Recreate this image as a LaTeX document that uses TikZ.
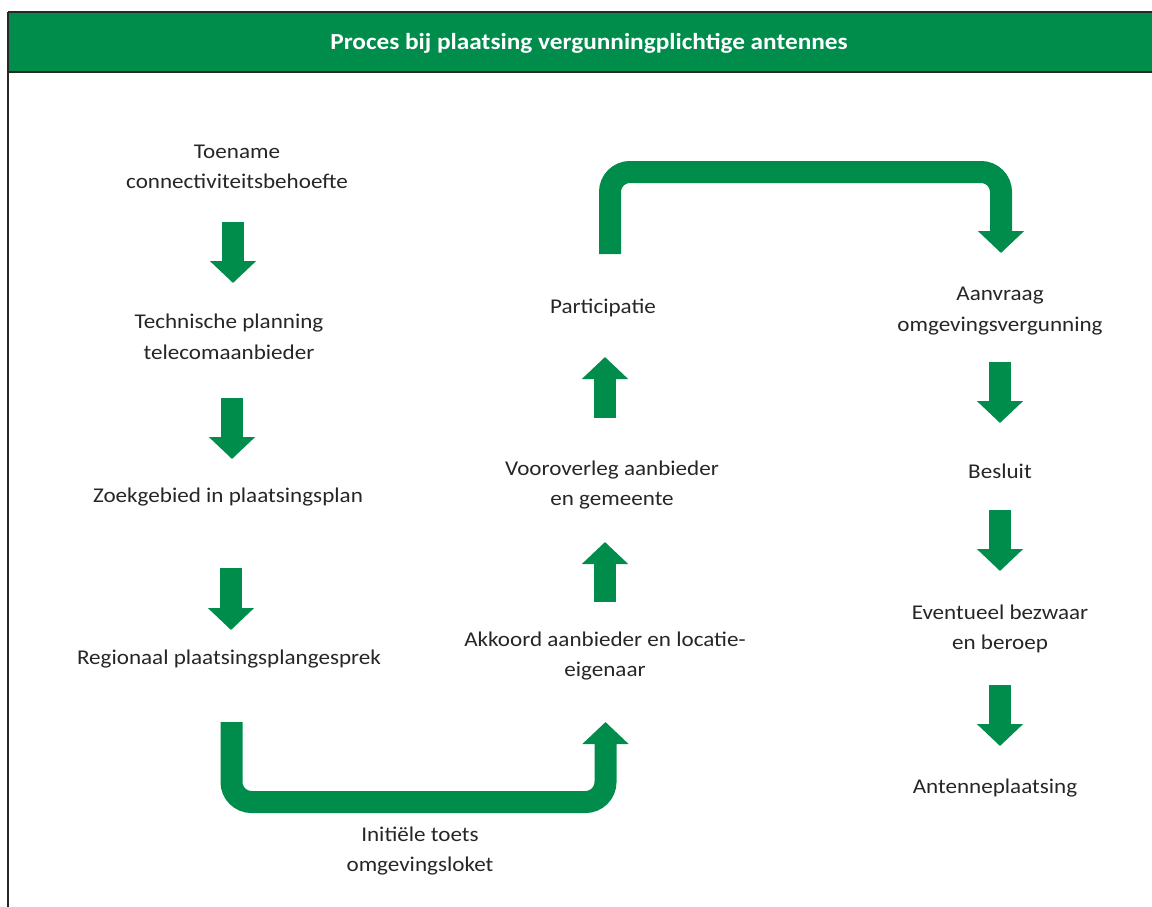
\documentclass[tikz,border=0pt]{standalone}
\usepackage{fontspec}
\setmainfont[FakeStretch=1.1]{Carlito}
\usetikzlibrary{arrows.meta}
\definecolor{kpngreen}{RGB}{0,140,75}
\definecolor{framegray}{RGB}{40,40,40}
\begin{document}
\begin{tikzpicture}[x=1pt,y=-1pt,
  lbl/.style={align=center,font=\fontsize{21}{30.5}\selectfont,text=black!85,inner sep=0pt},
  blockarrow/.style={draw=kpngreen,line width=22pt,-{Triangle[width=45pt,length=22pt]},kpngreen},
  bendarrow/.style={blockarrow,rounded corners=20pt}
]
\useasboundingbox (0,0) rectangle (1152,907);
\clip (0,0) rectangle (1152,907);
% frame and header
\draw[framegray,line width=1.5pt] (8,72) -- (8,920);
\fill[kpngreen] (8,12) rectangle (1180,72);
\draw[framegray,line width=2pt] (8,12) -- (1180,12);
\draw[framegray,line width=2pt] (8,72) -- (1180,72);
\draw[framegray,line width=2pt] (8,12) -- (8,72);
\node[font=\fontsize{23}{26}\selectfont\bfseries,text=white,inner sep=0pt] (title) at (589,43) {Proces bij plaatsing vergunningplichtige antennes};
% left column
\node[lbl] (toename) at (237,167) {Toename\\connectiviteitsbehoefte};
\node[lbl] (techn) at (229,337) {Technische planning\\telecomaanbieder};
\node[lbl] (zoek) at (228,497) {Zoekgebied in plaatsingsplan};
\node[lbl] (regio) at (229,659) {Regionaal plaatsingsplangesprek};
% bottom
\node[lbl] (initieel) at (420,851) {Initiële toets\\omgevingsloket};
% middle column
\node[lbl] (akkoord) at (605,656) {Akkoord aanbieder en locatie-\\eigenaar};
\node[lbl] (vooroverleg) at (612,485) {Vooroverleg aanbieder\\en gemeente};
\node[lbl] (particip) at (603,308) {Participatie};
% right column
\node[lbl] (aanvraag) at (1000,311) {Aanvraag\\omgevingsvergunning};
\node[lbl] (besluit) at (1000,471) {Besluit};
\node[lbl] (bezwaar) at (1000,629) {Eventueel bezwaar\\en beroep};
\node[lbl] (antenne) at (995,788) {Antenneplaatsing};
% arrow end points
\coordinate (a1s) at (233,222); \coordinate (a1e) at (233,283);
\coordinate (a2s) at (232,398); \coordinate (a2e) at (232,459);
\coordinate (a3s) at (231,568); \coordinate (a3e) at (231,630);
\coordinate (ubs) at (231.5,722); \coordinate (ube) at (605.5,722);
\coordinate (m1s) at (605,602); \coordinate (m1e) at (605,542);
\coordinate (m2s) at (605,418); \coordinate (m2e) at (605,357);
\coordinate (uts) at (610,254); \coordinate (ute) at (1001,253);
\coordinate (r1s) at (1000,362); \coordinate (r1e) at (1000,423);
\coordinate (r2s) at (1000,510); \coordinate (r2e) at (1000,571);
\coordinate (r3s) at (1000,685); \coordinate (r3e) at (1000,746);
% arrows
\draw[blockarrow] (a1s) -- (a1e);
\draw[blockarrow] (a2s) -- (a2e);
\draw[blockarrow] (a3s) -- (a3e);
\draw[bendarrow] (ubs) |- (418,802) -| (ube);
\draw[blockarrow] (m1s) -- (m1e);
\draw[blockarrow] (m2s) -- (m2e);
\draw[bendarrow] (uts) |- (800,172) -| (ute);
\draw[blockarrow] (r1s) -- (r1e);
\draw[blockarrow] (r2s) -- (r2e);
\draw[blockarrow] (r3s) -- (r3e);
\end{tikzpicture}
\end{document}
